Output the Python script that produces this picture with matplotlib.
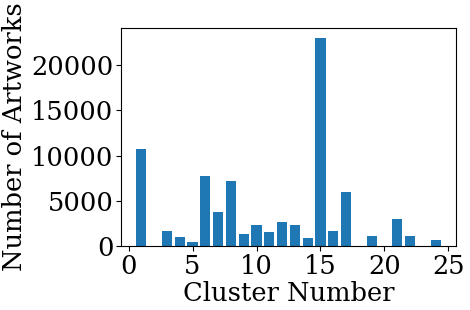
import numpy as np
import matplotlib
matplotlib.use("Agg")
import matplotlib.pyplot as plt

plt.rcParams['font.family'] = 'DejaVu Serif'
plt.rcParams['font.size'] = 18.5

clusters = [1, 3, 4, 5, 6, 7, 8, 9, 10, 11, 12, 13, 14, 15, 16, 17, 19, 21, 22, 24]
counts = [10770, 1700, 1030, 480, 7790, 3800, 7230, 1370, 2360, 1590, 2690,
          2360, 920, 22950, 1700, 6010, 1140, 3030, 1140, 700]

fig = plt.figure(figsize=(4.7, 3.1), dpi=100)
ax = fig.add_axes([121/470, 1 - 246/310, (456-121)/470, (246-28)/310])
ax.bar(clusters, counts, color='#1f77b4')
ax.set_xlabel("Cluster Number", labelpad=2)
ax.set_ylabel("Number of Artworks", labelpad=3)
ax.set_xticks([0, 5, 10, 15, 20, 25])
ax.set_yticks([0, 5000, 10000, 15000, 20000])
ax.tick_params(pad=2)
fig.savefig("out.png", dpi=100)
